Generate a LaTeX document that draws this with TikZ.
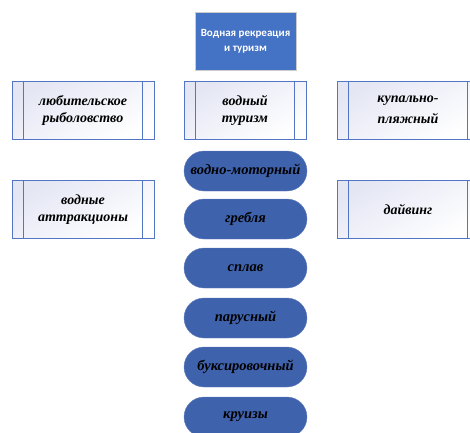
\documentclass[tikz,border=0pt]{standalone}
\usepackage{fontspec}
\setmainfont{Liberation Serif}
\newfontfamily\titlefont{Carlito Bold}
\definecolor{titleblue}{RGB}{68,114,196}
\definecolor{pillblue}{RGB}{63,98,173}
\definecolor{boxline}{RGB}{82,117,196}
\definecolor{lav}{RGB}{228,230,244}
\usetikzlibrary{shapes.misc}
\tikzset{
  procbox/.style={draw=boxline, line width=0.8pt, top color=lav, bottom color=white, shading angle=30,
    minimum width=142pt, minimum height=58pt, inner sep=0pt, align=center,
    font=\fontsize{14}{17}\selectfont\bfseries\itshape},
  pill/.style={draw=pillblue!80!white, fill=pillblue, rounded rectangle, minimum width=123pt, minimum height=40pt,
    inner sep=0pt, align=center, font=\fontsize{14.5}{16}\selectfont\bfseries\itshape},
  titlebox/.style={draw=black!20, line width=0.8pt, fill=titleblue, minimum width=101pt, minimum height=58pt,
    align=center, text=white, font=\titlefont\fontsize{11}{15}\selectfont}
}
\begin{document}
\begin{tikzpicture}[x=1pt,y=-1pt]
\useasboundingbox (0,0) rectangle (470,432);
\clip (0,0) rectangle (470,432);
\node[titlebox] (title) at (245.5,41) {Водная рекреация\\и туризм};
% process boxes
\newcommand{\procnode}[5]{%
  \node[procbox, minimum width=#3pt] (#1) at (#2) {#5};
  \draw[boxline, line width=0.8pt] ([xshift=#4pt]#1.north west) -- ([xshift=#4pt]#1.south west);
  \draw[boxline, line width=0.8pt] ([xshift=-#4pt]#1.north east) -- ([xshift=-#4pt]#1.south east);
}
\procnode{fish}{83,110}{142}{12}{любительское\\рыболовство}
\procnode{water}{245,110}{122}{12}{водный\\туризм}
\procnode{beach}{408,110}{142}{12}{купально-\\[4pt]пляжный}
\procnode{attr}{83,209.5}{142}{12}{водные\\аттракционы}
\procnode{dive}{408,209.5}{142}{12}{дайвинг}
% pills
\node[pill] (p1) at (245.5,171) {водно-моторный};
\node[pill] (p2) at (245.5,219) {гребля};
\node[pill] (p3) at (245.5,268) {сплав};
\node[pill] (p4) at (245.5,318) {парусный};
\node[pill] (p5) at (245.5,367) {буксировочный};
\node[pill] (p6) at (245.5,417) {круизы};
\end{tikzpicture}
\end{document}
